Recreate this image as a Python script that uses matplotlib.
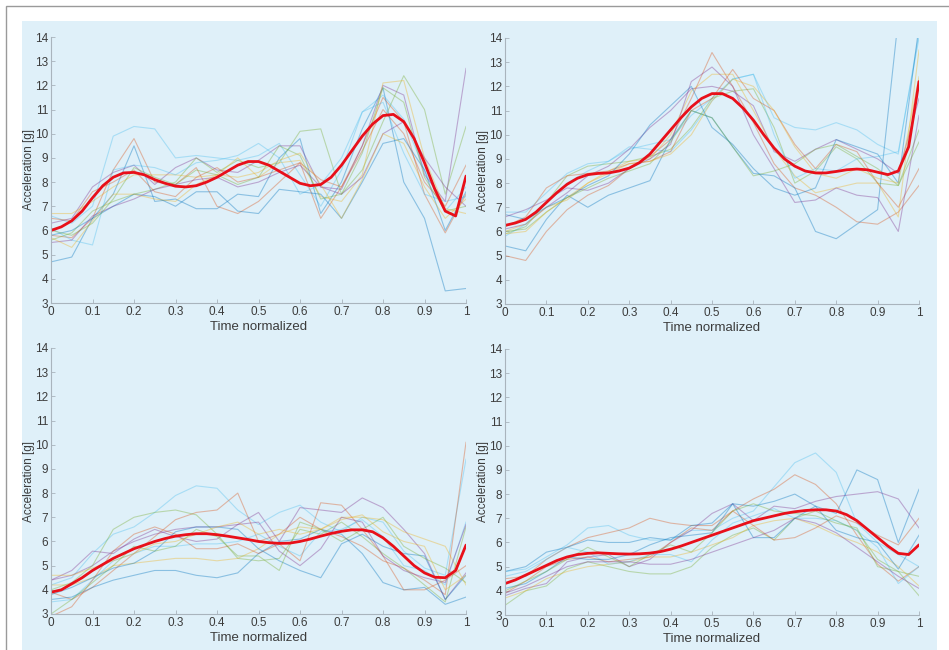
import numpy as np
import matplotlib
matplotlib.use("Agg")
import matplotlib.pyplot as plt
from matplotlib.patches import Rectangle

plt.rcParams['font.family'] = ['Liberation Sans', 'DejaVu Sans']

# sample grid of the single trials and of the smoothed mean
t_trial = np.linspace(0, 1, 21)
t_mean = np.linspace(0, 1, 41)

# ---- panel A (top left) ----
trials_a = [
    [6.6, 6.3, 7.0, 9.9, 10.3, 10.2, 9.0, 9.1, 9.0, 8.9, 9.1, 9.6, 8.3, 7.0, 8.5, 10.9, 11.6, 10.6, 8.5, 6.8, 7.8],
    [5.8, 5.7, 6.5, 8.5, 9.8, 8.0, 7.9, 8.6, 7.0, 6.7, 7.2, 8.0, 8.8, 6.5, 7.8, 9.5, 11.5, 10.5, 7.5, 5.9, 7.5],
    [4.7, 4.9, 6.5, 7.5, 9.5, 7.2, 7.3, 6.9, 6.9, 7.5, 7.4, 9.0, 9.8, 6.7, 8.0, 10.2, 11.9, 8.0, 6.5, 3.5, 3.6],
    [6.3, 6.5, 7.8, 8.4, 8.7, 7.9, 8.6, 9.0, 8.5, 8.4, 8.9, 9.5, 9.5, 7.8, 7.7, 9.5, 12.0, 11.6, 8.3, 7.2, 12.7],
    [5.6, 5.9, 6.8, 7.2, 7.5, 7.7, 8.0, 9.0, 8.4, 8.9, 8.6, 8.8, 10.1, 10.2, 7.5, 8.5, 10.5, 12.4, 11.0, 7.5, 10.3],
    [6.7, 6.7, 7.2, 7.8, 8.3, 8.3, 8.3, 8.2, 8.3, 9.0, 8.2, 8.8, 8.9, 7.4, 7.2, 8.3, 12.1, 12.2, 9.0, 6.9, 6.7],
    [6.1, 5.6, 5.4, 8.5, 8.7, 8.6, 8.3, 8.8, 8.9, 9.1, 9.6, 9.0, 7.5, 7.9, 9.0, 10.9, 11.3, 9.2, 7.5, 7.2, 7.4],
    [6.5, 6.4, 7.6, 8.0, 8.5, 7.6, 7.4, 8.2, 8.6, 8.0, 8.2, 8.5, 8.8, 8.1, 7.8, 9.3, 11.0, 10.0, 8.0, 7.0, 8.7],
    [5.8, 6.0, 6.5, 7.0, 7.5, 7.4, 7.0, 7.6, 7.6, 6.8, 6.7, 7.7, 7.6, 7.5, 6.5, 8.0, 9.6, 9.8, 8.5, 6.0, 7.6],
    [5.5, 5.6, 6.6, 7.0, 7.3, 7.7, 7.9, 8.1, 8.2, 7.8, 8.0, 8.4, 8.7, 7.8, 7.5, 8.2, 10.0, 10.5, 9.0, 7.8, 7.0],
    [6.0, 5.8, 6.3, 7.3, 8.6, 8.2, 7.9, 8.5, 8.3, 7.9, 8.2, 9.5, 9.1, 7.3, 7.5, 9.2, 11.9, 11.3, 8.2, 6.8, 7.0],
    [5.7, 5.3, 6.4, 7.5, 7.5, 7.3, 7.2, 7.9, 8.3, 8.2, 8.4, 8.9, 9.2, 7.9, 6.5, 8.1, 10.0, 9.6, 7.8, 6.5, 7.3],
]
mean_a = [6.0, 6.15, 6.4, 6.8, 7.35, 7.85, 8.2, 8.38, 8.4, 8.3, 8.1, 7.95, 7.83, 7.8, 7.85, 8.0, 8.2, 8.45, 8.7, 8.85, 8.85,
          8.7, 8.45, 8.2, 7.95, 7.85, 7.9, 8.2, 8.7, 9.3, 9.9, 10.4, 10.75, 10.8, 10.5, 9.8, 8.8, 7.7, 6.8, 6.6, 8.25]

# ---- panel B (top right) ----
trials_b = [
    [6.8, 6.8, 7.6, 8.4, 8.8, 8.9, 9.4, 9.6, 9.8, 10.8, 11.5, 12.3, 12.5, 10.7, 10.3, 10.2, 10.5, 10.2, 9.6, 9.2, 14.2],
    [5.0, 4.8, 6.0, 6.9, 7.5, 7.9, 8.6, 9.1, 9.8, 11.5, 13.4, 12.0, 10.5, 8.8, 7.8, 7.5, 7.0, 6.4, 6.3, 6.8, 7.9],
    [5.4, 5.2, 6.5, 7.5, 7.0, 7.5, 7.8, 8.1, 9.8, 11.0, 10.7, 9.5, 8.4, 8.3, 7.8, 6.0, 5.7, 6.3, 6.9, 14.8, 15.5],
    [6.1, 6.3, 7.0, 7.6, 8.3, 8.7, 9.4, 10.3, 11.0, 11.9, 12.0, 11.8, 11.2, 9.3, 8.9, 9.4, 9.8, 9.4, 9.0, 8.4, 11.5],
    [5.9, 6.2, 7.2, 8.3, 8.7, 8.8, 8.9, 9.1, 9.4, 10.3, 11.5, 11.8, 11.9, 10.3, 8.0, 8.5, 9.5, 9.0, 8.0, 7.9, 10.2],
    [6.0, 6.3, 7.0, 7.3, 8.0, 8.5, 8.9, 9.0, 10.0, 11.8, 12.5, 12.5, 11.0, 9.4, 8.3, 7.6, 7.8, 8.0, 8.0, 6.6, 13.5],
    [5.8, 6.3, 7.2, 8.0, 8.5, 8.9, 9.5, 9.4, 9.3, 10.2, 11.4, 12.3, 12.5, 10.0, 8.2, 8.6, 8.5, 9.0, 9.1, 9.3, 14.0],
    [6.2, 6.6, 7.8, 8.3, 8.4, 8.5, 8.8, 8.9, 9.3, 11.0, 11.5, 12.7, 11.5, 11.0, 9.6, 8.6, 9.6, 9.3, 8.0, 7.0, 8.6],
    [6.7, 6.5, 7.0, 7.4, 7.9, 8.3, 9.2, 10.4, 11.2, 12.0, 10.3, 9.6, 8.6, 7.8, 7.5, 7.8, 9.8, 9.5, 9.2, 8.0, 14.5],
    [6.6, 6.9, 7.3, 7.8, 7.7, 8.0, 8.6, 9.0, 9.6, 12.2, 12.8, 12.0, 10.0, 8.6, 7.2, 7.3, 7.8, 7.5, 7.4, 6.0, 10.8],
    [6.0, 6.1, 6.8, 7.4, 7.8, 8.2, 8.5, 8.8, 9.7, 11.0, 10.7, 9.5, 8.3, 8.5, 8.8, 9.4, 9.6, 9.1, 8.6, 7.9, 9.7],
    [5.9, 6.0, 6.8, 7.4, 8.0, 8.4, 8.8, 8.9, 9.2, 10.0, 11.4, 12.3, 12.0, 11.0, 9.5, 8.4, 8.2, 8.6, 8.2, 8.0, 12.4],
]
mean_b = [6.25, 6.35, 6.5, 6.8, 7.2, 7.6, 7.95, 8.2, 8.35, 8.4, 8.42, 8.5, 8.62, 8.85, 9.2, 9.7, 10.2, 10.7, 11.15, 11.5, 11.7,
          11.7, 11.5, 11.1, 10.6, 10.0, 9.45, 9.0, 8.7, 8.5, 8.42, 8.42, 8.48, 8.55, 8.58, 8.55, 8.45, 8.35, 8.5, 9.5, 12.2]

# ---- panel C (bottom left) ----
trials_c = [
    [4.2, 4.5, 5.5, 6.3, 6.6, 7.2, 7.9, 8.3, 8.2, 7.3, 6.7, 7.2, 7.5, 6.8, 6.4, 7.0, 6.8, 5.6, 4.9, 4.6, 9.4],
    [3.9, 3.6, 4.1, 4.8, 5.5, 6.2, 6.9, 7.2, 7.3, 8.0, 6.0, 6.3, 7.0, 6.5, 6.2, 5.8, 5.2, 4.9, 4.4, 3.8, 10.1],
    [3.6, 3.7, 4.1, 4.4, 4.6, 4.8, 4.8, 4.6, 4.5, 4.7, 5.5, 6.0, 6.1, 6.5, 6.3, 5.5, 4.3, 4.0, 4.1, 3.4, 3.7],
    [4.4, 4.6, 5.0, 5.6, 6.0, 6.3, 6.5, 6.6, 6.6, 6.7, 7.2, 6.0, 7.4, 7.3, 7.2, 7.8, 7.4, 6.5, 5.5, 3.6, 4.7],
    [4.0, 4.3, 5.0, 6.5, 7.0, 7.2, 7.3, 7.1, 6.3, 5.3, 5.2, 5.3, 6.5, 6.3, 6.8, 6.2, 5.5, 4.9, 4.2, 3.5, 6.6],
    [4.2, 4.2, 4.5, 5.0, 5.1, 5.2, 5.3, 5.3, 5.2, 5.3, 5.7, 6.3, 6.6, 6.5, 7.0, 7.0, 6.9, 6.4, 6.1, 5.8, 4.2],
    [3.5, 3.6, 4.4, 5.2, 5.5, 5.8, 5.8, 5.9, 5.9, 6.0, 6.3, 5.8, 5.4, 6.4, 6.5, 6.9, 6.2, 5.0, 4.8, 4.2, 6.8],
    [2.9, 3.3, 4.4, 5.6, 6.3, 6.6, 6.3, 5.7, 5.7, 5.9, 5.5, 5.9, 5.2, 7.6, 7.5, 6.5, 5.4, 4.0, 4.0, 4.4, 5.0],
    [3.8, 4.1, 4.5, 4.9, 5.1, 5.6, 6.4, 6.6, 6.6, 6.5, 5.7, 5.2, 4.8, 4.5, 5.9, 6.3, 5.8, 5.5, 5.4, 3.6, 4.6],
    [4.4, 4.8, 5.6, 5.5, 6.1, 6.5, 6.2, 6.0, 6.1, 6.7, 6.8, 5.6, 5.0, 5.7, 7.0, 6.8, 5.4, 4.8, 4.5, 4.3, 6.7],
    [3.0, 3.6, 4.3, 5.0, 5.8, 5.6, 5.8, 6.5, 6.2, 5.4, 5.4, 4.8, 6.8, 6.5, 6.0, 6.5, 7.0, 5.8, 5.3, 4.9, 4.3],
    [4.6, 4.6, 4.9, 5.2, 5.5, 5.9, 6.0, 6.3, 6.6, 6.8, 6.3, 6.5, 6.3, 6.5, 6.9, 7.1, 6.4, 6.0, 5.8, 4.0, 4.6],
]
mean_c = [3.9, 4.0, 4.25, 4.5, 4.8, 5.05, 5.3, 5.5, 5.7, 5.85, 6.0, 6.12, 6.22, 6.28, 6.32, 6.32, 6.28, 6.22, 6.15, 6.08, 6.0,
          5.95, 5.92, 5.93, 6.0, 6.1, 6.22, 6.33, 6.42, 6.48, 6.48, 6.4, 6.15, 5.8, 5.4, 5.0, 4.7, 4.52, 4.5, 4.8, 5.85]

# ---- panel D (bottom right) ----
trials_d = [
    [4.8, 4.9, 5.4, 5.9, 6.6, 6.7, 6.3, 6.1, 6.1, 6.5, 6.5, 7.0, 7.3, 8.3, 9.3, 9.7, 8.9, 6.8, 6.0, 5.5, 5.0],
    [4.5, 4.6, 5.3, 5.8, 6.2, 6.4, 6.6, 7.0, 6.8, 6.7, 6.7, 7.3, 7.8, 8.2, 8.8, 8.4, 7.6, 6.3, 5.1, 4.4, 5.0],
    [4.8, 5.0, 5.6, 5.8, 6.1, 6.0, 6.0, 6.2, 6.1, 6.7, 6.8, 7.6, 7.5, 7.7, 8.0, 7.5, 7.2, 9.0, 8.6, 6.0, 8.2],
    [3.8, 4.1, 4.3, 5.2, 5.4, 5.5, 5.0, 5.3, 6.0, 6.5, 7.2, 7.6, 6.9, 7.5, 7.4, 7.7, 7.9, 8.0, 8.1, 7.8, 6.6],
    [3.4, 4.0, 4.2, 4.9, 5.2, 5.0, 4.8, 4.7, 4.7, 5.0, 5.8, 6.3, 6.6, 6.1, 7.0, 7.3, 6.9, 6.5, 5.3, 4.8, 3.8],
    [3.7, 4.0, 4.5, 4.8, 5.0, 5.1, 5.2, 5.4, 5.4, 5.6, 5.9, 6.2, 6.7, 6.9, 7.0, 6.7, 6.3, 6.0, 5.6, 5.0, 4.2],
    [4.6, 4.8, 5.3, 5.8, 5.6, 5.1, 5.2, 5.5, 5.5, 5.2, 6.1, 6.8, 7.1, 7.4, 7.0, 7.0, 6.9, 6.5, 5.8, 4.3, 5.0],
    [3.9, 4.4, 5.0, 5.3, 5.4, 5.2, 5.3, 5.4, 6.0, 6.6, 6.5, 7.3, 6.7, 6.1, 6.2, 6.6, 7.1, 6.8, 6.3, 5.9, 7.0],
    [4.1, 4.3, 4.8, 5.4, 5.3, 5.3, 5.5, 5.9, 6.2, 6.3, 6.4, 7.6, 6.2, 6.2, 7.0, 7.5, 6.5, 6.2, 6.0, 4.9, 6.3],
    [3.9, 4.2, 4.6, 5.0, 5.2, 5.2, 5.2, 5.1, 5.1, 5.3, 5.6, 5.9, 6.2, 6.5, 7.0, 6.8, 6.4, 5.8, 5.2, 4.6, 4.1],
    [4.0, 4.4, 4.8, 5.3, 5.8, 5.4, 5.0, 5.5, 5.9, 5.6, 6.4, 7.3, 7.6, 7.3, 7.2, 7.1, 6.8, 6.6, 5.0, 4.8, 4.6],
]
mean_d = [4.3, 4.45, 4.65, 4.85, 5.05, 5.25, 5.4, 5.5, 5.55, 5.57, 5.55, 5.53, 5.52, 5.53, 5.56, 5.62, 5.72, 5.85, 6.0, 6.15, 6.3,
          6.45, 6.6, 6.75, 6.9, 7.0, 7.1, 7.2, 7.27, 7.32, 7.35, 7.35, 7.3, 7.15, 6.9, 6.55, 6.2, 5.85, 5.55, 5.5, 5.9]

xticks = [0, 0.1, 0.2, 0.3, 0.4, 0.5, 0.6, 0.7, 0.8, 0.9, 1]
xticklabels = ['0', '0.1', '0.2', '0.3', '0.4', '0.5', '0.6', '0.7', '0.8', '0.9', '1']
yticks = list(range(3, 15))

# MATLAB default line colours
trial_colors = ['#4dbeee', '#d95319', '#0072bd', '#7e2f8e', '#77ac30', '#edb120']

bg = '#dff0f9'
axis_col = '#a9b4bd'
text_col = '#3c3c3c'

fig = plt.figure(figsize=(9.49, 6.5), dpi=100, facecolor='white')

# outer frame and light blue panel (behind the axes)
fig.patches.append(Rectangle((6 / 949, -0.01), 1.0, 1 - 6 / 650 + 0.01, transform=fig.transFigure,
                             facecolor='white', edgecolor='#9a9a9a', linewidth=1.0, zorder=-2))
fig.patches.append(Rectangle((22 / 949, 0), 915 / 949, 1 - 21 / 650, transform=fig.transFigure,
                             facecolor=bg, edgecolor='none', zorder=-1))

positions = [
    [51 / 949, 1 - 303 / 650, 415 / 949, 266 / 650],
    [505 / 949, 1 - 304 / 650, 414 / 949, 266 / 650],
    [51 / 949, 1 - 614 / 650, 415 / 949, 266 / 650],
    [505 / 949, 1 - 615 / 650, 414 / 949, 266 / 650],
]
panels = [(trials_a, mean_a), (trials_b, mean_b), (trials_c, mean_c), (trials_d, mean_d)]

for pos, (trials, mean) in zip(positions, panels):
    ax = fig.add_axes(pos)
    ax.set_facecolor('none')
    for i, tr in enumerate(trials):
        ax.plot(t_trial, tr, color=trial_colors[i % len(trial_colors)], lw=0.8, alpha=0.38)
    ax.plot(t_mean, mean, color='#e8101a', lw=2.0, solid_capstyle='round', solid_joinstyle='round')

    ax.set_xlim(0, 1)
    ax.set_ylim(3, 14)
    ax.set_xticks(xticks)
    ax.set_xticklabels(xticklabels)
    ax.set_yticks(yticks)
    for s in ['top', 'right']:
        ax.spines[s].set_visible(False)
    for s in ['left', 'bottom']:
        ax.spines[s].set_color(axis_col)
        ax.spines[s].set_linewidth(0.8)
    ax.tick_params(direction='in', length=3, width=0.6, color=axis_col,
                   labelsize=8.5, labelcolor=text_col, pad=2)
    ax.set_xlabel('Time normalized', fontsize=9.5, color=text_col, labelpad=2)
    ax.set_ylabel('Acceleration [g]', fontsize=8.5, color=text_col, labelpad=0)

fig.savefig('out.png', dpi=100, facecolor='white')
